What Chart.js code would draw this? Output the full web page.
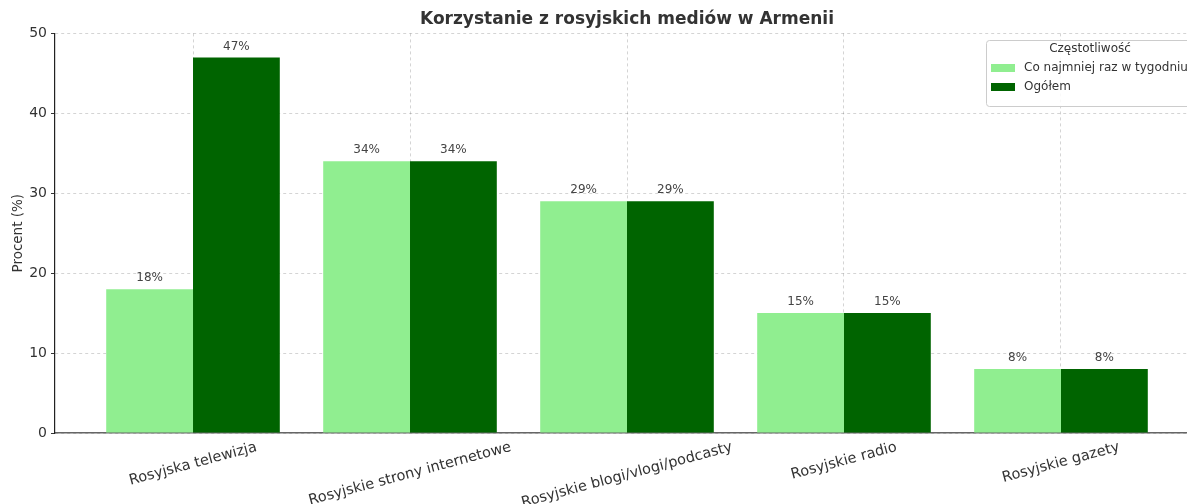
<!DOCTYPE html>
<html>
<head>
    <script src="https://cdn.jsdelivr.net/npm/chart.js"></script>
    <style>
        body { margin: 0; overflow: hidden; background: #fff; }
        #wrap { width: 1200px; height: 504px; }
    </style>
</head>
<body>
    <div id="wrap"><canvas id="mediaChart"></canvas></div>
    <script>
        const categories = ["Rosyjska telewizja", "Rosyjskie strony internetowe", "Rosyjskie blogi/vlogi/podcasty", "Rosyjskie radio", "Rosyjskie gazety"];
        const weekly = [18, 34, 29, 15, 8];
        const overall = [47, 34, 29, 15, 8];
        const seriesNames = ["Co najmniej raz w tygodniu", "Ogółem"];
        const yTicks = [0, 10, 20, 30, 40, 50];

        const FONT = "'DejaVu Sans', sans-serif";
        Chart.defaults.font.family = FONT;
        Chart.defaults.color = '#333';

        const toPoints = arr => arr.map((v, i) => ({ x: i, y: v }));

        // value labels above each bar
        const barLabels = {
            id: 'barLabels',
            afterDraw(chart) {
                const c = chart.ctx;
                c.save();
                c.font = '12px ' + FONT;
                c.fillStyle = '#444';
                c.textAlign = 'center';
                c.textBaseline = 'bottom';
                chart.data.datasets.forEach((ds, di) => {
                    chart.getDatasetMeta(di).data.forEach((bar, i) => {
                        c.fillText(ds.data[i].y + '%', bar.x, bar.y - 5);
                    });
                });
                c.restore();
            }
        };

        // rotated, centred category labels
        const catLabels = {
            id: 'catLabels',
            afterDraw(chart) {
                const c = chart.ctx;
                const xs = chart.scales.x;
                const ang = 15 * Math.PI / 180;
                const size = 14.5;
                c.save();
                c.font = size + 'px ' + FONT;
                c.fillStyle = '#333';
                c.textAlign = 'center';
                c.textBaseline = 'middle';
                categories.forEach((name, i) => {
                    const w = c.measureText(name).width;
                    const half = (w * Math.sin(ang) + size * Math.cos(ang)) / 2;
                    const px = xs.getPixelForValue(i);
                    const py = chart.chartArea.bottom + 7 + half;
                    c.save();
                    c.translate(px, py);
                    c.rotate(-ang);
                    c.fillText(name, 0, 0);
                    c.restore();
                });
                c.restore();
            }
        };

        // legend box in upper right corner
        const boxLegend = {
            id: 'boxLegend',
            afterDraw(chart) {
                const c = chart.ctx;
                const x0 = 986, y0 = 40, w = 208, h = 66;
                c.save();
                c.fillStyle = 'rgba(255,255,255,0.85)';
                c.strokeStyle = '#ccc';
                c.lineWidth = 1;
                c.beginPath();
                c.roundRect(x0 + 0.5, y0 + 0.5, w, h, 3);
                c.fill();
                c.stroke();
                c.font = '12px ' + FONT;
                c.fillStyle = '#333';
                c.textAlign = 'center';
                c.textBaseline = 'middle';
                c.fillText('Częstotliwość', x0 + w / 2, y0 + 9);
                c.textAlign = 'left';
                chart.data.datasets.forEach((ds, i) => {
                    const yy = y0 + 28 + i * 19;
                    c.fillStyle = ds.backgroundColor;
                    c.fillRect(x0 + 5, yy - 4, 24, 8);
                    c.fillStyle = '#333';
                    c.fillText(ds.label, x0 + 38, yy);
                });
                c.restore();
            }
        };

        const ctx = document.getElementById('mediaChart').getContext('2d');
        const mediaChart = new Chart(ctx, {
            type: 'bar',
            data: {
                datasets: [
                    { label: seriesNames[0], data: toPoints(weekly), backgroundColor: '#90EE90' },
                    { label: seriesNames[1], data: toPoints(overall), backgroundColor: '#006400' }
                ]
            },
            plugins: [barLabels, catLabels, boxLegend],
            options: {
                responsive: true,
                maintainAspectRatio: false,
                animation: false,
                layout: { padding: { left: 0, right: 1, bottom: 71 } },
                datasets: { bar: { categoryPercentage: 0.8, barPercentage: 1.0 } },
                plugins: {
                    legend: { display: false },
                    tooltip: { enabled: false },
                    title: {
                        display: true,
                        text: 'Korzystanie z rosyjskich mediów w Armenii',
                        font: { size: 17, weight: 'bold', family: FONT },
                        color: '#333',
                        fullSize: false,
                        padding: { top: 9, bottom: 4 }
                    }
                },
                scales: {
                    x: {
                        type: 'linear',
                        z: 1,
                        min: -0.636,
                        max: 4.636,
                        offset: false,
                        afterBuildTicks: s => { s.ticks = categories.map((_, i) => ({ value: i })); },
                        ticks: { display: false },
                        grid: { offset: false, color: 'rgba(0,0,0,0.17)', drawTicks: false },
                        border: { display: true, color: '#666', width: 1.5, dash: [3, 3] }
                    },
                    y: {
                        z: 1,
                        min: 0,
                        max: 50,
                        afterBuildTicks: s => { s.ticks = yTicks.map(v => ({ value: v })); },
                        afterFit: s => { s.width = 55; },
                        ticks: { font: { size: 14 }, color: '#333', padding: 4 },
                        grid: { color: 'rgba(0,0,0,0.17)', tickLength: 4, tickColor: '#333' },
                        border: { display: true, color: '#222', width: 1.2, dash: [3, 3] },
                        title: { display: true, text: 'Procent (%)', font: { size: 13.5 }, color: '#333', padding: { top: 10, bottom: 0 } }
                    }
                }
            }
        });
    </script>
</body>
</html>
